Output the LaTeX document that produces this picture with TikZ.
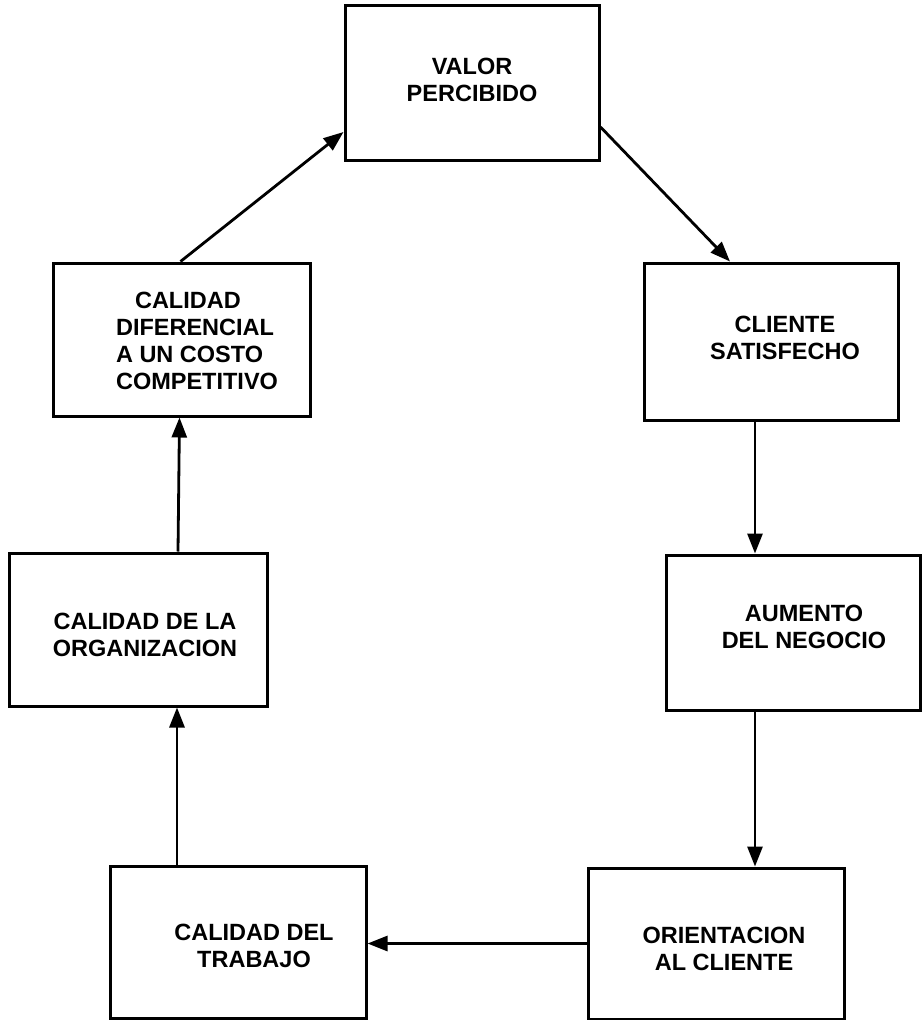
\documentclass[tikz,border=0pt]{standalone}
\usepackage{fontspec}
\setmainfont{Liberation Sans}
\usetikzlibrary{arrows.meta}
\begin{document}
\begin{tikzpicture}[x=1pt,y=-1pt,
  box/.style={draw,line width=3pt,rectangle,inner sep=0pt},
  lbl/.style={align=center,font=\fontsize{23.5}{27}\selectfont\bfseries,inner sep=0pt},
  arr/.style={line width=2.8pt,-{Triangle[length=20pt,width=15pt]}}]
\useasboundingbox (0,0) rectangle (921,1020);
% boxes
\node[box,minimum width=254pt,minimum height=155pt] (val) at (472,82.5) {};
\node[box,minimum width=254pt,minimum height=157pt] (cli) at (771,341.5) {};
\node[box,minimum width=254pt,minimum height=155pt] (aum) at (793,632.5) {};
\node[box,minimum width=256pt,minimum height=151pt] (ori) at (716,943.5) {};
\node[box,minimum width=256pt,minimum height=152pt] (tra) at (238,942) {};
\node[box,minimum width=258pt,minimum height=153pt] (org) at (138,629.5) {};
\node[box,minimum width=257pt,minimum height=153pt] (dif) at (181.5,339.5) {};
% texts
\node[lbl] (tval) at (472,80) {VALOR\\PERCIBIDO};
\node[lbl] (tcli) at (785,338) {CLIENTE\\SATISFECHO};
\node[lbl] (taum) at (804,627) {AUMENTO\\DEL NEGOCIO};
\node[lbl] (tori) at (724,949) {ORIENTACION\\AL CLIENTE};
\node[lbl] (ttra) at (254,946) {CALIDAD DEL\\TRABAJO};
\node[lbl] (torg) at (145,635) {CALIDAD DE LA\\ORGANIZACION};
\node[lbl,align=left] (tdif) at (197,341) {\hspace*{19pt}CALIDAD\\DIFERENCIAL\\A UN COSTO\\COMPETITIVO};
% connectors
\draw[arr] ([yshift=-44.5pt]val.east) -- ([xshift=-41pt]cli.north);
\draw[arr] ([xshift=-16pt]cli.south) -- ([xshift=-38pt]aum.north);
\draw[arr] ([xshift=-38pt]aum.south) -- ([xshift=39pt]ori.north);
\draw[arr] (ori.west) -- (ori.west -| tra.east);
\draw[arr] ([xshift=-61pt]tra.north) -- ([xshift=39pt]org.south);
\draw[arr] ([xshift=40pt]org.north) -- ([xshift=-2pt]dif.south);
\draw[arr] ([xshift=-1pt]dif.north) -- ([yshift=-49.5pt]val.west);
\end{tikzpicture}
\end{document}
